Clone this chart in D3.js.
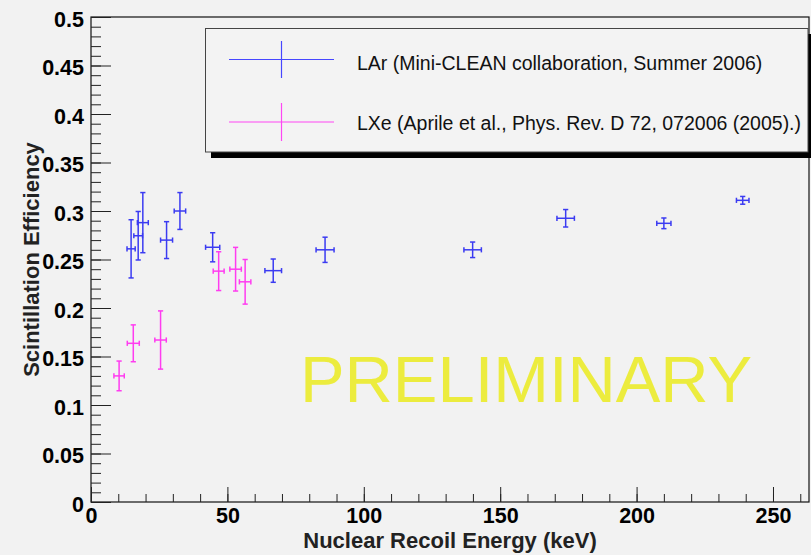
<!DOCTYPE html>
<html>
<head>
<meta charset="utf-8">
<script src="https://cdn.jsdelivr.net/npm/d3@7"></script>
<style>
  html, body { margin: 0; padding: 0; background: #f2f2f2; }
  svg { display: block; }
  text { font-family: "Liberation Sans", Arial, Helvetica, sans-serif; }
</style>
</head>
<body>
<svg id="chart" width="811" height="555"></svg>
<script>
// ---- data ----
const larEnergy   = [14.7, 17.3, 19.0, 27.7, 32.6, 44.6, 66.8, 85.8, 139.9, 174.0, 210.0, 238.9];
const larEff      = [0.261, 0.2745, 0.288, 0.270, 0.300, 0.2626, 0.2385, 0.260, 0.260, 0.2925, 0.2873, 0.311];
const larEnergyErr= [1.5, 1.6, 2.0, 2.2, 2.1, 2.6, 3.05, 3.3, 3.2, 3.2, 2.6, 2.3];
const larEffErr   = [0.030, 0.025, 0.031, 0.019, 0.019, 0.015, 0.012, 0.013, 0.008, 0.009, 0.0055, 0.004];

const lxeEnergy   = [10.3, 15.5, 25.5, 46.8, 53.0, 56.5];
const lxeEff      = [0.130, 0.1636, 0.167, 0.238, 0.240, 0.227];
const lxeEnergyErr= [1.9, 2.2, 2.1, 2.0, 2.1, 2.1];
const lxeEffErr   = [0.0153, 0.019, 0.030, 0.020, 0.0225, 0.023];

const xMajorTicks = [0, 50, 100, 150, 200, 250];
const yMajorTicks = [0, 0.05, 0.1, 0.15, 0.2, 0.25, 0.3, 0.35, 0.4, 0.45, 0.5];
const seriesNames = ["LAr (Mini-CLEAN collaboration, Summer 2006)",
                     "LXe (Aprile et al., Phys. Rev. D 72, 072006 (2005).)"];
const xTitle = "Nuclear Recoil Energy (keV)";
const yTitle = "Scintillation Efficiency";
const watermark = "PRELIMINARY";

// ---- layout ----
const svg = d3.select("#chart");
const pL = 91, pR = 809, pT = 17, pB = 502;
const x = d3.scaleLinear().domain([0, 263.2]).range([pL, pR]);
const y = d3.scaleLinear().domain([0, 0.5]).range([pB, pT]);

const colLAr = "#3b3bf2";
const colLXe = "#ff3cf0";

svg.append("rect").attr("width", 811).attr("height", 555).attr("fill", "#f2f2f2");

// frame
svg.append("rect").attr("x", pL).attr("y", pT)
  .attr("width", pR - pL).attr("height", pB - pT)
  .attr("fill", "#f2f2f2").attr("stroke", "#111").attr("stroke-width", 1.2);

// watermark
svg.append("text").attr("x", 300).attr("y", 402)
  .attr("font-size", 64).attr("fill", "#ecec3e")
  .attr("textLength", 452).attr("lengthAdjust", "spacingAndGlyphs")
  .text(watermark);

// axes
const yMinor = d3.range(0, 51).map(i => i * 0.01);
const xMinor = d3.range(0, 27).map(i => i * 10);

const gyMinor = svg.append("g").attr("transform", `translate(${pL},0)`)
  .call(d3.axisLeft(y).tickValues(yMinor).tickSizeInner(-10).tickSizeOuter(0).tickFormat(""));
const gy = svg.append("g").attr("transform", `translate(${pL},0)`)
  .call(d3.axisLeft(y).tickValues(yMajorTicks).tickSizeInner(-20).tickSizeOuter(0).tickPadding(7)
    .tickFormat(d => d === 0 ? "0" : d3.format(".2~f")(d)));
const gxMinor = svg.append("g").attr("transform", `translate(0,${pB})`)
  .call(d3.axisBottom(x).tickValues(xMinor).tickSizeInner(-8).tickSizeOuter(0).tickFormat(""));
const gx = svg.append("g").attr("transform", `translate(0,${pB})`)
  .call(d3.axisBottom(x).tickValues(xMajorTicks).tickSizeInner(-15).tickSizeOuter(0).tickPadding(6));

[gyMinor, gy, gxMinor, gx].forEach(g => {
  g.select(".domain").remove();
  g.selectAll(".tick line").attr("stroke", "#222").attr("stroke-width", 1);
});
[gy, gx].forEach(g => {
  g.selectAll(".tick text")
    .attr("font-family", "'Liberation Sans', Arial, sans-serif")
    .attr("font-weight", "bold").attr("font-size", 21.5).attr("fill", "#000");
});
gy.selectAll(".tick text").attr("dy", "0.42em");

// axis titles
svg.append("text").attr("x", (pL + pR) / 2).attr("y", 548)
  .attr("text-anchor", "middle").attr("font-weight", "bold").attr("font-size", 22)
  .attr("fill", "#222").text(xTitle);
svg.append("text")
  .attr("transform", `translate(39,${(pT + pB) / 2}) rotate(-90)`)
  .attr("text-anchor", "middle").attr("font-weight", "bold").attr("font-size", 22)
  .attr("fill", "#222").text(yTitle);

// error-bar crosses
function drawSeries(E, V, dE, dV, color) {
  const g = svg.append("g").attr("stroke", color).attr("stroke-width", 1.5).attr("fill", "none");
  const cap = 2.6;
  E.forEach((e, i) => {
    const cx = x(e), cy = y(V[i]);
    const x0 = x(e - dE[i]), x1 = x(e + dE[i]);
    const y0 = y(V[i] - dV[i]), y1 = y(V[i] + dV[i]);
    g.append("line").attr("x1", x0).attr("x2", x1).attr("y1", cy).attr("y2", cy);
    g.append("line").attr("x1", cx).attr("x2", cx).attr("y1", y0).attr("y2", y1);
    g.append("line").attr("x1", x0).attr("x2", x0).attr("y1", cy - cap).attr("y2", cy + cap);
    g.append("line").attr("x1", x1).attr("x2", x1).attr("y1", cy - cap).attr("y2", cy + cap);
    g.append("line").attr("x1", cx - cap).attr("x2", cx + cap).attr("y1", y0).attr("y2", y0);
    g.append("line").attr("x1", cx - cap).attr("x2", cx + cap).attr("y1", y1).attr("y2", y1);
  });
}
drawSeries(larEnergy, larEff, larEnergyErr, larEffErr, colLAr);
drawSeries(lxeEnergy, lxeEff, lxeEnergyErr, lxeEffErr, colLXe);

// legend
const lg = svg.append("g");
lg.append("rect").attr("x", 211).attr("y", 34).attr("width", 600).attr("height", 124).attr("fill", "#000");
lg.append("rect").attr("x", 205.5).attr("y", 28.5).attr("width", 602.5).attr("height", 123.5)
  .attr("fill", "#f3f3f3").attr("stroke", "#444").attr("stroke-width", 1);
const legendItems = [
  { name: seriesNames[0], color: "#4646ff", cy: 59.5, half: 18.5, ty: 69.5 },
  { name: seriesNames[1], color: "#ff46f4", cy: 122, half: 19, ty: 130 }
];
legendItems.forEach(it => {
  lg.append("line").attr("x1", 229).attr("x2", 334).attr("y1", it.cy).attr("y2", it.cy)
    .attr("stroke", it.color).attr("stroke-width", 1.2);
  lg.append("line").attr("x1", 281.5).attr("x2", 281.5).attr("y1", it.cy - it.half).attr("y2", it.cy + it.half)
    .attr("stroke", it.color).attr("stroke-width", 1.2);
  lg.append("text").attr("x", 357).attr("y", it.ty).attr("font-size", 19.5).attr("fill", "#111").text(it.name);
});
</script>
</body>
</html>
